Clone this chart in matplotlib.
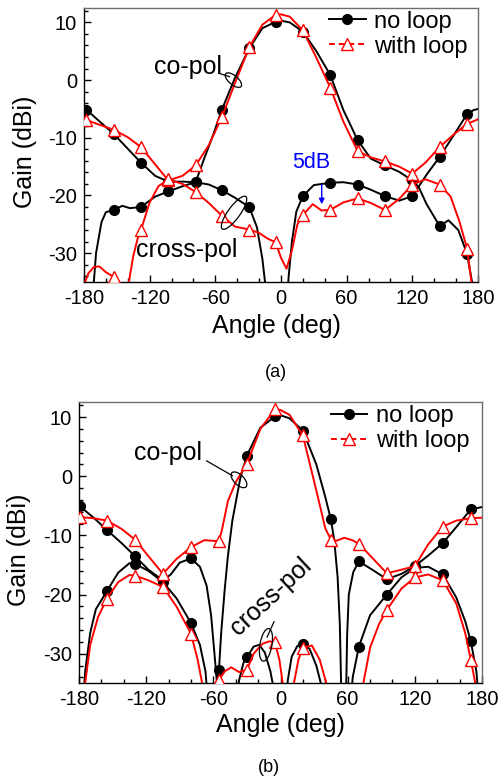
import matplotlib
matplotlib.use("Agg")
import matplotlib.pyplot as plt
from matplotlib.patches import Ellipse
from matplotlib.lines import Line2D
from matplotlib import transforms
from matplotlib.ticker import MultipleLocator

plt.rcParams['font.family'] = ['Liberation Sans', 'DejaVu Sans']

# ---------------- data: panel (a) ----------------
a_co_nl_ang = [-180, -178, -165, -153, -140, -128, -115, -103, -90, -78, -70, -62, -54, -42, -29, -17, -5, 0, 8, 20, 32, 45, 57, 70, 82, 95, 108, 120, 126, 133, 145, 153, 162, 170, 175, 178]
a_co_nl_gain = [-4.9, -5.1, -7.3, -9.3, -11.9, -14.3, -16.6, -17.6, -17.6, -17.7, -13.5, -9.5, -5.1, 0.4, 5.5, 9.0, 10.1, 10.3, 10.0, 8.4, 5.1, 0.9, -5.2, -10.4, -13.6, -14.8, -15.9, -17.4, -18.6, -21.5, -25.3, -24.3, -26.0, -30.1, -35.5, -40]
a_co_nl_mk = [-178, -153, -128, -103, -78, -54, -29, -5, 20, 45, 70, 95, 120, 145, 170]

a_co_wl_ang = [-180, -178, -165, -153, -140, -128, -115, -103, -90, -78, -66, -54, -42, -29, -17, -5, 0, 8, 20, 32, 45, 57, 70, 82, 95, 108, 120, 132, 145, 158, 170, 180]
a_co_wl_gain = [-6.7, -6.9, -7.8, -8.6, -9.9, -11.6, -14.6, -17.4, -16.6, -14.8, -11.3, -6.4, -0.5, 5.7, 9.6, 11.3, 11.4, 11.0, 8.6, 4.0, -1.3, -7.2, -12.3, -13.4, -14.1, -15.0, -16.2, -14.3, -11.6, -9.4, -7.6, -6.8]
a_co_wl_mk = [-178, -153, -128, -103, -78, -54, -29, -5, 20, 45, 70, 95, 120, 145, 170]

a_x_nl_ang = [-173, -169, -164, -160, -153, -145, -138, -128, -115, -103, -90, -78, -66, -54, -42, -29, -22, -17, -14, -12, 5, 7, 10, 14, 20, 30, 45, 57, 70, 82, 95, 108, 120, 126, 133, 145, 158, 170, 176, 180]
a_x_nl_gain = [-40, -30, -24.6, -22.9, -22.5, -21.8, -22.2, -22.0, -20.2, -19.3, -18.4, -17.7, -18.1, -19.1, -20.4, -22.0, -25.5, -31, -36, -40, -40, -34, -28, -22.8, -20.1, -18.2, -17.8, -17.7, -18.1, -19.0, -20.1, -20.9, -20.1, -18.4, -16.4, -13.3, -9.5, -5.9, -5.2, -5.0]
a_x_nl_mk = [-153, -128, -103, -78, -54, -29, 20, 45, 70, 95, 120, 145, 170]

a_x_wl_ang = [-180, -176, -171, -166, -160, -153, -148, -145, -141, -139, -135, -131, -128, -120, -112, -103, -90, -78, -66, -54, -42, -29, -20, -12, -5, 0, 5, 10, 15, 20, 29, 37, 45, 57, 70, 82, 95, 108, 120, 132, 145, 155, 163, 170, 174, 176]
a_x_wl_gain = [-35.5, -33.5, -32.4, -32.3, -33.3, -34.1, -35.5, -40, -40, -35, -30.5, -27.5, -26.0, -21.2, -18.4, -17.2, -18.0, -19.4, -21.3, -23.5, -25.4, -25.9, -26.5, -27.5, -28.1, -30.8, -32.7, -29.5, -25.0, -23.4, -21.5, -22.6, -22.5, -21.2, -20.5, -21.3, -22.5, -20.6, -18.1, -17.2, -18.1, -20.2, -24.5, -29.2, -35, -40]
a_x_wl_mk = [-153, -128, -103, -78, -54, -29, -5, 20, 45, 70, 95, 120, 145, 170]

# ---------------- data: panel (b) ----------------
b_co_nl_ang = [-180, -179, -167, -155, -142, -130, -118, -105, -98, -90, -80, -72, -66, -62, -59, -56.5, -55, -53, -50, -47, -43, -36, -30, -18, -5, 0, 8, 20, 32, 40, 45, 48, 51, 53, 54.7, 58.3, 59.5, 61, 65, 70, 82, 95, 108, 120, 132, 145, 157, 170, 180]
b_co_nl_gain = [-5.0, -5.1, -7.0, -9.1, -11.3, -13.5, -15.8, -17.6, -16.6, -14.6, -13.9, -15.3, -18.5, -23.5, -30, -35.5, -32.8, -26.5, -19.5, -13.5, -7.5, -0.4, 3.5, 8.2, 10.1, 10.3, 9.8, 7.7, 2.0, -3.5, -7.3, -10.8, -17.0, -25, -40, -40, -27, -20, -16.2, -14.4, -15.8, -17.4, -16.5, -15.2, -13.4, -11.3, -8.6, -5.6, -5.2]
b_co_nl_mk = [-179, -155, -130, -105, -80, -55, -30, -5, 20, 45, 70, 95, 120, 145, 170]

b_co_wl_ang = [-180, -179, -167, -155, -142, -130, -118, -105, -93, -80, -68, -55, -52, -47, -40, -30, -18, -5, 0, 8, 20, 32, 40, 45, 50, 57, 64, 70, 82, 95, 108, 120, 132, 145, 157, 170, 180]
b_co_wl_gain = [-6.8, -6.9, -7.1, -7.5, -8.9, -10.7, -13.5, -16.5, -14.0, -12.0, -10.8, -11.0, -8.8, -4.2, -1.0, 2.1, 8.0, 11.3, 11.2, 10.4, 6.9, -2.4, -8.8, -10.7, -10.9, -10.4, -10.8, -11.4, -13.8, -16.4, -15.8, -15.2, -11.5, -8.5, -7.5, -7.1, -7.0]
b_co_wl_mk = [-179, -155, -130, -105, -80, -55, -30, -5, 20, 45, 70, 95, 120, 145, 170]

b_x_nl_ang = [-177, -174.5, -170, -165, -155, -145, -135, -130, -118, -105, -93, -80, -72, -67, -64, -41, -37, -33, -30, -24, -19, -14, -9, -6, -5, 5, 6.5, 10, 15, 20, 26, 32, 36, 38, 62, 64.5, 70, 80, 95, 108, 120, 132, 145, 157, 165, 170, 175, 178]
b_x_nl_gain = [-40, -33, -26.5, -22.5, -19.4, -16.3, -14.7, -14.8, -16.0, -17.9, -20.6, -24.8, -28.5, -33, -40, -40, -34.5, -31.5, -30.6, -28.8, -28.5, -29.8, -33, -36, -40, -40, -34.5, -30.5, -28.7, -28.3, -29.2, -32, -35, -40, -40, -34, -28.8, -23.5, -20.0, -17.1, -15.5, -15.3, -16.6, -20.5, -24.5, -27.9, -33, -40]
b_x_nl_mk = [-155, -130, -105, -80, -30, 20, 70, 95, 120, 145, 170]

b_x_wl_ang = [-176, -174.5, -170, -163, -155, -145, -135, -130, -118, -105, -93, -80, -74, -70, -68.5, -60, -57.5, -55, -50, -44, -37, -30, -24, -16, -10, -5, -1, 2, 3.5, 10, 12, 16, 20, 28, 35, 41, 43, 72, 74, 80, 88, 95, 108, 120, 132, 145, 157, 165, 170, 174, 176]
b_x_wl_gain = [-40, -35, -28.5, -23.8, -20.7, -17.9, -16.7, -16.8, -17.6, -18.7, -22.0, -26.6, -31, -35, -40, -40, -36, -34.5, -33.0, -32.3, -33.1, -32.7, -30.0, -28.3, -27.9, -28.1, -31, -35, -40, -40, -35, -31, -29.0, -28.6, -31, -35, -40, -40, -35, -29, -25, -22.6, -19.0, -17.1, -16.6, -17.6, -21.5, -26.5, -31, -35, -40]
b_x_wl_mk = [-155, -130, -105, -80, -55, -30, -5, 20, 95, 120, 145, 170]

x_ticks = [-180, -120, -60, 0, 60, 120, 180]
y_ticks = [-30, -20, -10, 0, 10]
legend_labels = ["no loop", "with loop"]

# ---------------- styles ----------------
black_style = dict(color='black', lw=1.4, marker='o', ms=7, mfc='black', mec='black', zorder=3)
red_style = dict(color='red', lw=1.4, marker='^', ms=8.5, mfc='white', mec='red', mew=1.0, zorder=4)

fig = plt.figure(figsize=(4.99, 7.8), dpi=100)
W, H = 499.0, 780.0
axA = fig.add_axes([84 / W, 1 - 282 / H, (478 - 84) / W, (282 - 8) / H])
axB = fig.add_axes([79 / W, 1 - 683.3 / H, (482 - 79) / W, (683.3 - 402.3) / H])


def draw(ax, ang, gain, mk, style):
    idx = [i for i, a in enumerate(ang) if a in mk]
    ax.plot(ang, gain, markevery=idx, **style)


def ellipse(ax, x, y, w_px, h_px, angle):
    trans = fig.dpi_scale_trans + transforms.ScaledTranslation(x, y, ax.transData)
    e = Ellipse((0, 0), w_px / 100.0, h_px / 100.0, angle=angle, fill=False,
                ec='black', lw=0.9, transform=trans, zorder=5)
    ax.add_patch(e)


draw(axA, a_co_nl_ang, a_co_nl_gain, a_co_nl_mk, black_style)
draw(axA, a_x_nl_ang, a_x_nl_gain, a_x_nl_mk, black_style)
draw(axA, a_co_wl_ang, a_co_wl_gain, a_co_wl_mk, red_style)
draw(axA, a_x_wl_ang, a_x_wl_gain, a_x_wl_mk, red_style)

draw(axB, b_co_nl_ang, b_co_nl_gain, b_co_nl_mk, black_style)
draw(axB, b_x_nl_ang, b_x_nl_gain, b_x_nl_mk, black_style)
draw(axB, b_co_wl_ang, b_co_wl_gain, b_co_wl_mk, red_style)
draw(axB, b_x_wl_ang, b_x_wl_gain, b_x_wl_mk, red_style)

for ax in (axA, axB):
    ax.set_xlim(-180, 180)
    ax.set_ylim(-35, 12.5)
    ax.set_xticks(x_ticks)
    ax.set_xticklabels([str(t) for t in x_ticks])
    ax.set_yticks(y_ticks)
    ax.set_yticklabels([str(t) for t in y_ticks])
    ax.xaxis.set_minor_locator(MultipleLocator(20))
    ax.yaxis.set_minor_locator(MultipleLocator(2))
    ax.tick_params(which='both', direction='in', top=False, right=False, labelsize=14.5, width=1)
    ax.tick_params(which='major', length=5, pad=5)
    ax.tick_params(which='minor', length=3)
    for s in ('left', 'bottom'):
        ax.spines[s].set_color('black')
        ax.spines[s].set_linewidth(1.0)
    for s in ('top', 'right'):
        ax.spines[s].set_color('#6e6e6e')
        ax.spines[s].set_linewidth(1.0)
    ax.set_xlabel('Angle (deg)', fontsize=18)
    ax.set_ylabel('Gain (dBi)', fontsize=18)
    handles = [Line2D([], [], color='black', lw=1.4, marker='o', ms=7),
               Line2D([], [], color='red', lw=1.4, ls=(0, (3, 2)), marker='^', ms=8.5, mfc='white', mec='red')]
    leg = ax.legend(handles, legend_labels, loc='upper left', frameon=False, fontsize=17,
                    handlelength=1.55, handletextpad=0.35, labelspacing=0.12,
                    borderpad=0, borderaxespad=0)

axA.get_legend().set_bbox_to_anchor((0.622, 0.99), transform=axA.transAxes)
axB.get_legend().set_bbox_to_anchor((0.625, 0.99), transform=axB.transAxes)

axA.xaxis.set_label_coords(0.489, -0.118)
axA.yaxis.set_label_coords(-0.12, 0.475)
axB.xaxis.set_label_coords(0.5, -0.106)
axB.yaxis.set_label_coords(-0.118, 0.474)

# ---------------- annotations (a) ----------------
axA.text(-85.4, 2.3, 'co-pol', fontsize=18, ha='center', va='center', zorder=6)
axA.plot([-57, -47], [1.2, 0.6], color='black', lw=0.9, zorder=5)
ellipse(axA, -43.5, 0.0, 20, 9, -40)
axA.text(-86.4, -29.5, 'cross-pol', fontsize=18, ha='center', va='center', zorder=6)
ellipse(axA, -42.9, -23.0, 40, 12, 54)
axA.text(27.4, -14.3, '5dB', fontsize=15.5, color='blue', ha='center', va='center', zorder=6)
axA.annotate('', xy=(37.2, -22.0), xytext=(37.2, -17.6),
             arrowprops=dict(arrowstyle='-|>', color='blue', lw=1.0, mutation_scale=8), zorder=6)

# ---------------- annotations (b) ----------------
axB.text(-100.5, 4.0, 'co-pol', fontsize=18, ha='center', va='center', zorder=6)
axB.plot([-66, -43], [2.6, 0.1], color='black', lw=0.9, zorder=5)
ellipse(axB, -37.1, -0.6, 20, 10, -45)
axB.text(-8.5, -20.4, 'cross-pol', fontsize=18, ha='center', va='center', rotation=43, zorder=6)
axB.plot([-5.8, -12.0], [-24.6, -27.2], color='black', lw=0.9, zorder=5)
ellipse(axB, -13.0, -28.5, 12, 33, -10)

fig.text(276 / W, 1 - 372.7 / H, '(a)', ha='center', va='center', fontsize=13)
fig.text(269 / W, 1 - 767 / H, '(b)', ha='center', va='center', fontsize=13)

fig.savefig('out.png', dpi=100)
